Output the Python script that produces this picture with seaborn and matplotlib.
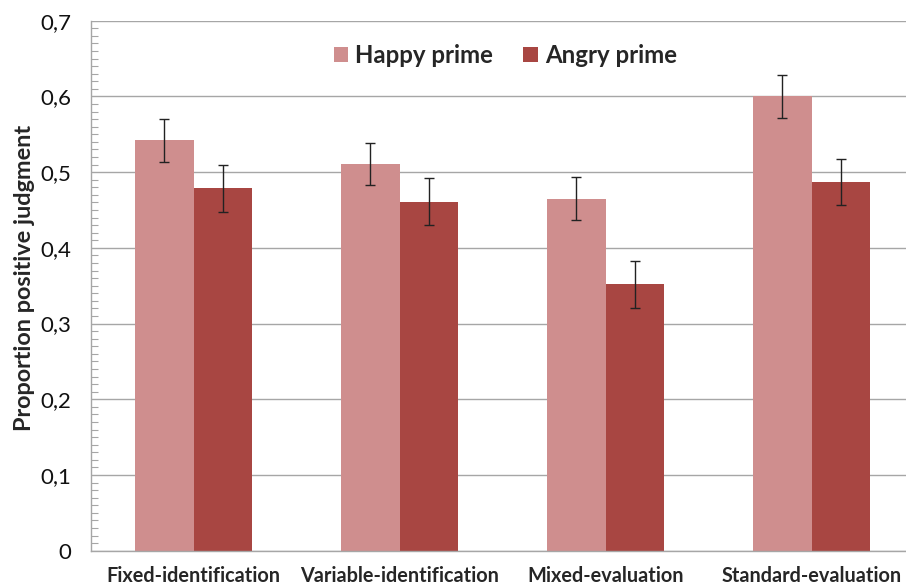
import matplotlib
matplotlib.use("Agg")
import matplotlib.pyplot as plt
import seaborn as sns
import pandas as pd
import numpy as np
from matplotlib.ticker import MultipleLocator

categories = ["Fixed-identification", "Variable-identification", "Mixed-evaluation", "Standard-evaluation"]
series_names = ["Happy prime", "Angry prime"]
happy_values = [0.542, 0.511, 0.465, 0.600]
angry_values = [0.479, 0.461, 0.352, 0.487]
happy_err = [0.028, 0.028, 0.028, 0.028]
angry_err = [0.031, 0.031, 0.031, 0.031]
y_ticks = [0, 0.1, 0.2, 0.3, 0.4, 0.5, 0.6, 0.7]
y_tick_labels = ["0", "0,1", "0,2", "0,3", "0,4", "0,5", "0,6", "0,7"]

colors = ["#CF8E8E", "#A84642"]

df = pd.DataFrame({
    "category": categories * 2,
    "prime": [series_names[0]] * 4 + [series_names[1]] * 4,
    "value": happy_values + angry_values,
})
errs = [happy_err, angry_err]

sns.set_theme(style="white")
plt.rcParams["font.family"] = ["Lato", "DejaVu Sans"]

fig = plt.figure(figsize=(9.06, 5.87), dpi=100)
ax = fig.add_axes([0.1001, 0.0618, 0.9095, 0.9029])

sns.barplot(data=df, x="category", y="value", hue="prime", order=categories,
            hue_order=series_names, palette=colors, width=0.57, errorbar=None,
            saturation=1, ax=ax, edgecolor="none", zorder=2)

for cont, err in zip(ax.containers, errs):
    xs = [p.get_x() + p.get_width() / 2 for p in cont.patches]
    hs = [p.get_height() for p in cont.patches]
    ax.errorbar(xs, hs, yerr=err, fmt="none", ecolor="#222222", elinewidth=1.0,
                capsize=3.5, capthick=1.0, zorder=3)

ax.set_ylim(0, 0.7)
ax.set_xlim(-0.5, 3.5)
ax.set_yticks(y_ticks)
ax.set_yticklabels(y_tick_labels)
ax.yaxis.set_minor_locator(MultipleLocator(0.01))
ax.tick_params(axis="y", which="major", length=0, pad=14, labelsize=16, labelcolor="#111111")
ax.tick_params(axis="y", which="minor", direction="in", length=5, width=0.8, color="#a6a6a6", left=True)
ax.tick_params(axis="x", length=0, pad=11, labelsize=14.3)
for lbl in ax.get_xticklabels():
    lbl.set_fontweight("bold")

ax.grid(axis="y", which="major", color="#a6a6a6", linewidth=1.0, zorder=0)
ax.set_axisbelow(True)
for s in ["left", "bottom"]:
    ax.spines[s].set_color("#a6a6a6")
    ax.spines[s].set_linewidth(1.0)
ax.spines["top"].set_visible(False)
ax.spines["right"].set_visible(False)

ax.set_xlabel("")
ax.set_ylabel("Proportion positive judgment", fontsize=16.9, fontweight="bold", labelpad=8)
ax.yaxis.set_label_coords(-0.068, 0.515)

ax.legend(loc="center", bbox_to_anchor=(0.503, 0.935), ncol=2, frameon=False,
          prop={"weight": "bold", "size": 17.3}, handlelength=0.6, handleheight=0.6,
          handletextpad=0.3, columnspacing=1.25)

fig.savefig("out.png", dpi=100)
